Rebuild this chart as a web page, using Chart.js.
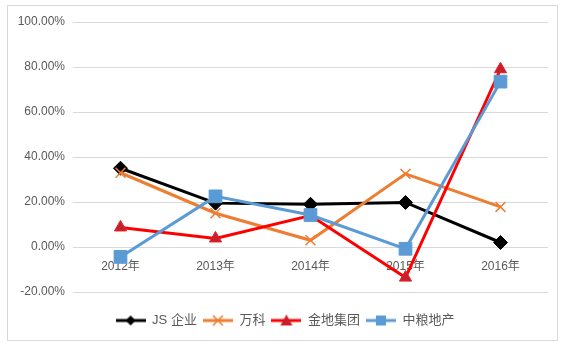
<!DOCTYPE html>
<html lang="zh">
<head>
    <meta charset="UTF-8">
    <title>增长率对比</title>
    <script src="https://cdn.jsdelivr.net/npm/chart.js@4.4.1/dist/chart.umd.min.js"></script>
    <style>
        * {
            margin: 0;
            padding: 0;
            box-sizing: border-box;
        }

        body {
            background: #fff;
            width: 574px;
            height: 355px;
            overflow: hidden;
        }

        .frame {
            position: absolute;
            left: 7px;
            top: 5px;
            width: 551px;
            height: 336px;
            border: 1px solid #d9d9d9;
        }

        .chart-box {
            position: absolute;
            left: 0;
            top: 0;
            width: 574px;
            height: 355px;
        }
    </style>
</head>
<body>
    <div class="frame"></div>
    <div class="chart-box">
        <canvas id="growthChart"></canvas>
    </div>

    <script>
        // data (percent)
        const years = ['2012年', '2013年', '2014年', '2015年', '2016年'];
        const jsValues = [35.0, 19.5, 19.0, 19.8, 2.0];
        const vankeValues = [33.0, 15.0, 3.0, 32.5, 17.8];
        const jindiValues = [8.7, 3.8, 14.0, -13.6, 79.0];
        const zlValues = [-4.4, 22.5, 14.2, -0.8, 73.5];
        const yTicks = [-20, 0, 20, 40, 60, 80, 100];

        const fontFamily = "'Liberation Sans', 'Noto Sans CJK SC', sans-serif";
        const textColor = '#595959';

        // legend sample: short line with the marker in the middle
        function legendIcon(color, fill, style) {
            const c = document.createElement('canvas');
            c.width = 30;
            c.height = 14;
            const ctx = c.getContext('2d');
            ctx.strokeStyle = color;
            ctx.lineWidth = 3;
            ctx.beginPath();
            ctx.moveTo(0, 7);
            ctx.lineTo(30, 7);
            ctx.stroke();
            ctx.fillStyle = fill;
            ctx.lineWidth = 1.5;
            ctx.beginPath();
            if (style === 'diamond') {
                ctx.moveTo(15, 2); ctx.lineTo(20, 7); ctx.lineTo(15, 12); ctx.lineTo(10, 7);
                ctx.closePath(); ctx.fill();
            } else if (style === 'cross') {
                ctx.moveTo(10, 2); ctx.lineTo(20, 12); ctx.moveTo(20, 2); ctx.lineTo(10, 12);
                ctx.stroke();
            } else if (style === 'triangle') {
                ctx.moveTo(15, 1); ctx.lineTo(21, 12); ctx.lineTo(9, 12);
                ctx.closePath(); ctx.fill();
            } else {
                ctx.rect(10, 2, 10, 10); ctx.fill();
            }
            return c;
        }

        const icons = [
            legendIcon('#000000', '#000000', 'diamond'),
            legendIcon('#ED7D31', '#ED7D31', 'cross'),
            legendIcon('#FF0000', '#C8202A', 'triangle'),
            legendIcon('#5B9BD5', '#5B9BD5', 'square')
        ];

        new Chart(document.getElementById('growthChart'), {
            type: 'line',
            data: {
                labels: years,
                datasets: [
                    {
                        label: 'JS 企业',
                        data: jsValues,
                        borderColor: '#000000',
                        backgroundColor: '#000000',
                        borderWidth: 3,
                        pointStyle: 'rectRot',
                        pointRadius: 7,
                        pointBorderWidth: 1,
                        order: 4
                    },
                    {
                        label: '万科',
                        data: vankeValues,
                        borderColor: '#ED7D31',
                        backgroundColor: '#ED7D31',
                        borderWidth: 3,
                        pointStyle: 'crossRot',
                        pointRadius: 7,
                        pointBorderWidth: 1.5,
                        order: 3
                    },
                    {
                        label: '金地集团',
                        data: jindiValues,
                        borderColor: '#FF0000',
                        backgroundColor: '#C8202A',
                        pointBorderColor: '#E02028',
                        borderWidth: 3,
                        pointStyle: 'triangle',
                        pointRadius: 7,
                        pointBorderWidth: 1,
                        order: 2
                    },
                    {
                        label: '中粮地产',
                        data: zlValues,
                        borderColor: '#5B9BD5',
                        backgroundColor: '#5B9BD5',
                        borderWidth: 3,
                        pointStyle: 'rect',
                        pointRadius: 9,
                        pointBorderWidth: 1,
                        order: 1
                    }
                ]
            },
            options: {
                responsive: true,
                maintainAspectRatio: false,
                animation: false,
                layout: {
                    padding: { left: 0, right: 4, top: 22, bottom: 18 }
                },
                scales: {
                    x: {
                        offset: true,
                        position: { y: 0 },
                        grid: { display: false },
                        border: { display: false },
                        ticks: {
                            color: textColor,
                            padding: 4,
                            font: { family: fontFamily, size: 12 }
                        }
                    },
                    y: {
                        min: -20,
                        max: 100,
                        afterFit: s => { s.width = 73; },
                        afterBuildTicks: s => { s.ticks = yTicks.map(v => ({ value: v })); },
                        grid: { color: '#d9d9d9', drawTicks: false },
                        border: { display: false },
                        ticks: {
                            color: textColor,
                            padding: 8,
                            font: { family: fontFamily, size: 12 },
                            callback: v => v.toFixed(2) + '%'
                        }
                    },
                    // empty spacers: gap under the plot and at its right
                    gapBottom: {
                        type: 'linear',
                        position: 'bottom',
                        afterFit: s => { s.height = 16; },
                        grid: { display: false },
                        border: { display: false },
                        ticks: { display: false }
                    },
                    gapRight: {
                        type: 'linear',
                        position: 'right',
                        afterFit: s => { s.width = 22; },
                        grid: { display: false },
                        border: { display: false },
                        ticks: { display: false }
                    }
                },
                plugins: {
                    tooltip: { enabled: false },
                    legend: {
                        position: 'bottom',
                        labels: {
                            usePointStyle: true,
                            pointStyleWidth: 30,
                            padding: 6,
                            color: textColor,
                            font: { family: fontFamily, size: 13 },
                            sort: (a, b) => a.datasetIndex - b.datasetIndex,
                            generateLabels: chart => {
                                const items = Chart.defaults.plugins.legend.labels.generateLabels(chart);
                                items.forEach(it => { it.pointStyle = icons[it.datasetIndex]; });
                                return items;
                            }
                        }
                    }
                }
            }
        });
    </script>
</body>
</html>
